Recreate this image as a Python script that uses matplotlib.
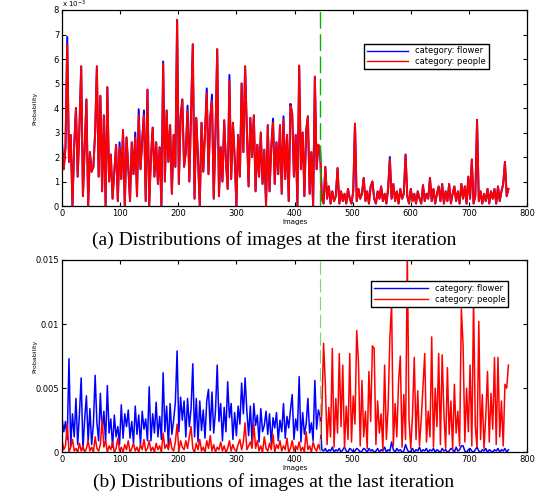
import numpy as np
import matplotlib
matplotlib.use("Agg")
import matplotlib.pyplot as plt
from matplotlib.ticker import FuncFormatter

# image index (every 3rd image shown)
images = list(range(0, 769, 3))
split_at = 443  # boundary between flower images and people images

# first iteration, probability in units of 1e-3
flower_first = [
    2.6, 1.5, 2.4, 6.9, 1.8, 2.9, 0.0, 2.5, 4.0, 1.2,
    3.2, 5.7, 0.4, 2.4, 4.35, 0.0, 2.2, 1.4, 1.6, 3.0,
    5.7, 1.2, 4.5, 0.6, 3.7, 0.0, 4.85, 1.0, 2.1, 0.3,
    1.4, 2.5, 0.2, 2.6, 1.1, 3.1, 0.0, 2.8, 1.6, 0.2,
    2.6, 1.3, 3.0, 0.4, 3.95, 1.5, 2.7, 3.9, 0.2, 4.75,
    0.0, 2.0, 3.2, 1.2, 2.6, 0.9, 2.4, 0.0, 5.9, 1.0,
    3.9, 1.8, 3.3, 0.5, 2.9, 1.6, 7.6, 0.9, 3.7, 4.35,
    1.6, 2.2, 4.1, 1.0, 3.8, 6.6, 0.3, 3.6, 1.9, 0.0,
    3.4, 1.4, 3.0, 4.8, 1.3, 3.6, 4.55, 0.3, 2.9, 6.4,
    0.4, 2.4, 1.0, 3.5, 1.8, 0.7, 5.35, 1.1, 3.4, 2.0,
    0.0, 2.9, 1.2, 5.0, 2.2, 5.7, 3.1, 0.8, 3.6, 2.0,
    3.7, 0.6, 2.5, 1.2, 3.0, 0.9, 2.3, 0.0, 3.3, 0.6,
    2.4, 3.57, 0.9, 2.6, 1.3, 3.3, 0.5, 3.66, 1.1, 2.9,
    0.2, 4.17, 3.77, 1.2, 2.9, 0.0, 5.73, 1.5, 3.0, 0.4,
    3.07, 3.66, 0.5, 2.2, 0.0, 5.28, 1.5, 2.5, 2.3, 0.3,
    0.1, 1.6, 0.3, 0.8, 0.1, 0.6, 0.2, 0.4, 1.55, 0.1,
    0.6, 0.2, 0.5, 0.1, 0.7, 0.3, 0.1, 0.6, 3.36, 0.2,
    0.7, 0.3, 0.5, 1.15, 0.2, 0.6, 0.1, 0.8, 1.0, 0.3,
    0.1, 0.6, 0.3, 0.8, 0.2, 0.5, 0.1, 0.7, 2.0, 0.3,
    0.9, 0.2, 0.6, 0.1, 0.7, 0.3, 0.5, 2.1, 0.4, 0.1,
    0.7, 0.2, 0.5, 0.1, 0.6, 0.3, 0.1, 0.85, 0.2, 0.5,
    0.3, 1.15, 0.2, 0.7, 0.1, 0.5, 0.8, 0.2, 0.9, 0.1,
    0.6, 0.2, 0.9, 0.1, 0.5, 0.8, 0.2, 0.6, 0.1, 0.9,
    0.3, 0.8, 0.1, 1.2, 0.3, 1.9, 0.1, 0.4, 3.52, 0.2,
    0.6, 0.1, 0.5, 0.2, 0.7, 0.1, 0.6, 0.3, 0.7, 0.1,
    0.8, 0.2, 0.6, 0.9, 1.8, 0.4, 0.7,
]
# people curve follows the flower curve, except at these images
people_first_diff = {
    0: 2.4, 9: 6.6, 99: 2.4, 126: 2.8, 132: 3.7, 141: 3.7, 174: 5.8,
    204: 3.5, 216: 3.9, 249: 4.6, 258: 4.3, 288: 5.1, 363: 3.4,
    381: 3.5, 393: 4.1, 564: 1.9, 714: 3.5,
}

# last iteration, probability in units of 1e-3
flower_last = [
    2.7, 1.6, 2.4, 1.0, 7.3, 0.5, 3.0, 1.2, 4.2, 0.6,
    3.0, 5.8, 0.2, 2.6, 4.4, 0.8, 3.4, 0.6, 2.2, 6.0,
    2.3, 0.9, 4.6, 1.5, 3.2, 0.8, 5.2, 1.5, 2.6, 0.4,
    2.9, 1.2, 2.0, 0.6, 3.7, 1.1, 3.0, 2.0, 3.3, 1.1,
    2.4, 0.7, 3.6, 1.4, 2.9, 0.6, 3.2, 1.8, 2.6, 0.9,
    5.1, 0.9, 3.0, 1.5, 3.9, 1.2, 2.8, 1.0, 6.2, 1.6,
    3.6, 0.5, 3.8, 1.4, 2.5, 3.9, 7.9, 1.6, 4.3, 2.5,
    4.0, 1.2, 4.2, 2.0, 3.4, 6.9, 1.2, 4.2, 0.8, 4.0,
    1.7, 3.3, 1.1, 4.0, 4.9, 1.7, 4.7, 1.5, 3.2, 6.8,
    2.4, 3.8, 0.9, 3.5, 1.6, 5.5, 2.7, 3.8, 1.0, 3.1,
    1.3, 3.6, 2.2, 5.4, 3.0, 5.8, 3.2, 1.3, 3.6, 0.7,
    3.8, 2.1, 2.9, 0.8, 3.4, 1.6, 2.1, 3.2, 1.4, 3.0,
    0.6, 2.7, 1.9, 3.1, 0.9, 2.5, 1.6, 3.8, 1.1, 2.8,
    1.9, 3.3, 4.5, 1.0, 2.6, 1.7, 5.9, 0.8, 3.1, 1.4,
    2.2, 4.2, 1.5, 2.3, 0.9, 5.6, 1.8, 3.3, 2.8, 0.2,
    0.1, 0.3, 0.0, 0.2, 0.1, 0.4, 0.0, 0.2, 0.1, 0.3,
    0.0, 0.2, 0.4, 0.1, 0.0, 0.3, 0.2, 0.0, 0.1, 0.3,
    0.2, 0.0, 0.1, 0.3, 0.2, 0.0, 0.3, 0.1, 0.2, 0.0,
    0.1, 0.3, 0.0, 0.2, 0.1, 0.4, 0.0, 0.2, 0.1, 0.8,
    0.2, 0.0, 0.3, 0.1, 0.2, 0.0, 0.1, 0.6, 0.2, 0.0,
    0.1, 0.3, 0.0, 0.2, 0.1, 0.4, 0.0, 0.2, 0.1, 0.3,
    0.0, 0.2, 0.1, 0.3, 0.0, 0.2, 0.1, 0.0, 0.3, 0.1,
    0.2, 0.0, 0.1, 0.3, 0.2, 0.0, 0.4, 0.1, 0.2, 0.5,
    0.5, 0.1, 0.0, 0.2, 0.3, 0.1, 0.0, 0.2, 0.4, 0.1,
    0.0, 0.2, 0.1, 0.3, 0.0, 0.2, 0.1, 0.0, 0.2, 0.1,
    0.3, 0.0, 0.2, 0.1, 0.3, 0.0, 0.2,
]
people_last = [
    1.0, 0.2, 0.5, 2.2, 0.0, 0.4, 1.0, 0.1, 0.3, 0.0,
    0.7, 0.1, 0.5, 0.0, 0.3, 0.9, 0.1, 0.4, 0.0, 1.2,
    0.3, 0.1, 0.6, 2.6, 0.4, 0.9, 0.0, 0.5, 0.2, 0.8,
    0.0, 0.3, 1.1, 0.1, 0.4, 0.0, 0.6, 0.2, 0.9, 0.0,
    0.3, 0.7, 0.1, 0.4, 0.0, 0.6, 0.2, 1.0, 0.1, 0.3,
    0.9, 0.1, 0.4, 0.0, 0.7, 0.2, 0.5, 0.0, 1.5, 0.3,
    0.6, 0.2, 1.1, 0.3, 0.1, 0.8, 2.2, 0.1, 0.9, 0.4,
    0.2, 0.9, 0.3, 1.2, 2.0, 0.3, 0.0, 0.7, 0.2, 1.0,
    0.1, 0.4, 0.0, 0.9, 0.3, 1.3, 0.1, 0.6, 0.0, 0.4,
    0.2, 0.8, 0.1, 0.5, 0.0, 0.3, 0.9, 0.1, 0.6, 0.2,
    0.1, 0.6, 1.0, 0.2, 0.8, 2.3, 0.2, 0.5, 0.8, 0.3,
    2.2, 0.3, 0.9, 0.1, 0.5, 0.0, 1.2, 0.3, 0.1, 0.7,
    0.2, 1.4, 0.0, 0.6, 0.3, 0.9, 0.1, 0.5, 0.2, 1.1,
    0.0, 0.3, 0.9, 0.1, 0.5, 0.2, 0.8, 0.1, 0.4, 0.0,
    1.6, 0.2, 0.5, 0.0, 0.8, 0.3, 0.1, 0.6, 0.2, 3.2,
    8.5, 5.3, 0.6, 3.5, 1.2, 8.1, 0.4, 4.2, 1.5, 7.7,
    2.0, 6.8, 0.3, 3.6, 1.0, 7.7, 0.8, 4.4, 2.2, 9.5,
    7.0, 0.5, 5.6, 1.2, 3.2, 0.3, 6.3, 2.4, 8.3, 8.1,
    0.6, 4.0, 1.5, 3.0, 0.2, 6.8, 1.0, 3.5, 8.9, 11.6,
    0.5, 3.8, 1.2, 5.5, 7.5, 0.4, 4.5, 1.0, 15.5, 2.5,
    0.3, 3.0, 7.4, 1.0, 4.8, 0.5, 2.6, 5.2, 7.7, 0.8,
    3.2, 1.2, 9.0, 0.4, 5.0, 2.0, 7.7, 0.6, 7.6, 3.0,
    0.3, 6.6, 1.4, 4.0, 0.2, 5.3, 1.5, 3.2, 0.5, 11.2,
    8.3, 0.8, 5.0, 1.6, 6.8, 0.5, 12.0, 2.0, 0.4, 10.2,
    1.0, 4.5, 0.3, 2.8, 6.3, 0.8, 4.6, 1.8, 7.4, 0.6,
    7.4, 1.2, 4.0, 0.5, 5.3, 5.0, 6.8,
]

people_first = [people_first_diff.get(x, v) for x, v in zip(images, flower_first)]

scale = 1e-3
tick_fs = 6

fig = plt.figure(figsize=(5.42, 4.95), dpi=100)
ax1 = fig.add_axes([0.1144, 0.5838, 0.858, 0.396])
ax2 = fig.add_axes([0.1144, 0.0863, 0.858, 0.3885])


def style_axes(ax):
    ax.set_xlim(0, 800)
    ax.set_xticks([0, 100, 200, 300, 400, 500, 600, 700, 800])
    ax.tick_params(direction='in', length=3, width=0.8, labelsize=tick_fs,
                   top=True, right=True, pad=2)
    for s in ax.spines.values():
        s.set_linewidth(0.9)
    ax.set_xlabel('Images', fontsize=5, labelpad=1)
    ax.set_ylabel('Probability', fontsize=4.5)
    ax.yaxis.set_label_coords(-0.052, 0.5)


# (a) first iteration
ax1.plot(images, np.array(flower_first) * scale, color='#0000ff', lw=1.4,
         label='category: flower')
ax1.plot(images, np.array(people_first) * scale, color='#ff0000', lw=1.4,
         label='category: people')
ax1.axvline(split_at, color='#00b400', lw=1, dashes=(12, 4))
ax1.set_ylim(0, 8e-3)
ax1.set_yticks(np.arange(0, 9) * 1e-3)
ax1.yaxis.set_major_formatter(FuncFormatter(lambda v, p: '%d' % round(v * 1e3)))
ax1.text(0.0, 1.0, r'x 10$^{-3}$', transform=ax1.transAxes,
         fontsize=5, va='bottom', ha='left')
style_axes(ax1)
leg = ax1.legend(loc='upper left', bbox_to_anchor=(0.64, 0.85), fontsize=6,
                 fancybox=False, framealpha=1, edgecolor='black',
                 handlelength=5, borderpad=0.35, labelspacing=0.2)
leg.get_frame().set_linewidth(1.0)
for ln in leg.get_lines():
    ln.set_linewidth(1.0)

# (b) last iteration
ax2.plot(images, np.array(flower_last) * scale, color='#0000ff', lw=1.1,
         label='category: flower')
ax2.plot(images, np.array(people_last) * scale, color='#ff0000', lw=1.1,
         label='category: people')
ax2.axvline(split_at, color='#7fd07f', lw=0.8, dashes=(12, 4))
ax2.set_ylim(0, 0.015)
ax2.set_yticks([0, 0.005, 0.01, 0.015])
ax2.set_yticklabels(['0', '0.005', '0.01', '0.015'])
style_axes(ax2)
leg = ax2.legend(loc='upper left', bbox_to_anchor=(0.655, 0.91), fontsize=6,
                 fancybox=False, framealpha=1, edgecolor='black',
                 handlelength=6.5, borderpad=0.35, labelspacing=0.2)
leg.get_frame().set_linewidth(1.0)
for ln in leg.get_lines():
    ln.set_linewidth(1.0)

fig.text(0.505, 0.515, '(a) Distributions of images at the first iteration',
         family='Liberation Serif', fontsize=14, ha='center', va='center')
fig.text(0.505, 0.027, '(b) Distributions of images at the last iteration',
         family='Liberation Serif', fontsize=14, ha='center', va='center')

fig.savefig('out.png', dpi=100)
